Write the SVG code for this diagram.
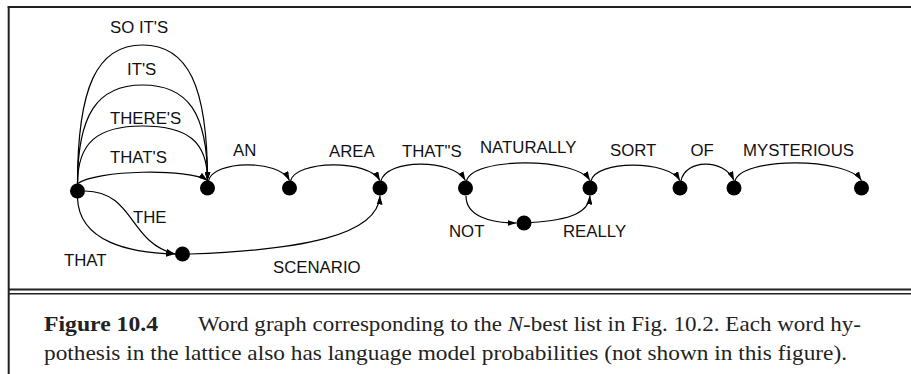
<svg xmlns="http://www.w3.org/2000/svg" width="911" height="374" viewBox="0 0 911 374">
  <style>
    .lbl { font-family: "Liberation Sans", Arial, sans-serif; font-size: 16.8px; fill: #111; }
    .cap { font-family: "Liberation Serif", "Times New Roman", serif; font-size: 22px; fill: #222; }
    .edge { fill: none; stroke: #000; stroke-width: 1.2; marker-end: url(#arr); }
    .edge2 { fill: none; stroke: #000; stroke-width: 1.2; }
    .node { fill: #000; }
    .frame { stroke: #231f20; fill: none; }
  </style>
  <defs>
    <marker id="arr" markerUnits="userSpaceOnUse" markerWidth="9" markerHeight="6" refX="9" refY="3" orient="auto">
      <path d="M0,0 L9,3 L0,6 z" fill="#000"/>
    </marker>
  </defs>
  <rect width="911" height="374" fill="#fff"/>

  <!-- frame -->
  <g id="frame">
    <line class="frame" x1="7.7" y1="7" x2="911" y2="7" stroke-width="2"/>
    <line class="frame" x1="8.7" y1="6" x2="8.7" y2="374" stroke-width="2"/>
    <line class="frame" x1="8" y1="289.5" x2="911" y2="289.5" stroke-width="2"/>
    <line class="frame" x1="8" y1="293.7" x2="911" y2="293.7" stroke-width="1.6"/>
  </g>

  <!-- connectors -->
  <g id="connectors">
    <path class="edge" d="M77.5,184 C77.5,87 97,45 142.5,45 C188,45 207.5,86 207.5,180.5"/>
    <path class="edge" d="M77.5,184 C77.5,115 97,85 142.5,85 C188,85 207.5,113 207.5,180.5"/>
    <path class="edge" d="M77.5,184 C77.5,143 97,126 142.5,126 C188,126 207.5,142 207.5,180.5"/>
    <path class="edge" d="M78,183.5 C95,170 190,168 207.5,180.5"/>
    <path class="edge" d="M208.5,181 C213,160 279,159 289.5,180.5"/>
    <path class="edge" d="M290.5,181 C296,160 368,159 380,180.5"/>
    <path class="edge" d="M381,181 C386,159 452,158 465.5,180.5"/>
    <path class="edge" d="M466.5,181 C472,157 575,157 590,180.5"/>
    <path class="edge" d="M591,181 C596,160 668,160 680,180.5"/>
    <path class="edge" d="M681,181 C685,159 724,158 734,180.5"/>
    <path class="edge" d="M735,181 C741,157 846,157 861.5,180.5"/>
    <path class="edge" d="M466,196 C466,216 490,223 516.5,223"/>
    <path class="edge" d="M531,222.5 C572,220 589,212 590,195.5"/>
    <path class="edge" d="M85,191 C135,192 128,242 175,254"/>
    <path class="edge" d="M77.5,198 C79,242 130,253 175,254"/>
    <path class="edge" d="M190,254 C300,250 378,236 380,195.5"/>
  </g>

  <!-- nodes -->
  <g id="n0"><circle class="node" cx="77.5" cy="191" r="7.5"/></g>
  <g id="n1"><circle class="node" cx="207.5" cy="188" r="7.5"/></g>
  <g id="n2"><circle class="node" cx="289.5" cy="188" r="7.5"/></g>
  <g id="n3"><circle class="node" cx="380" cy="188" r="7.5"/></g>
  <g id="n4"><circle class="node" cx="465.5" cy="188" r="7.5"/></g>
  <g id="n5"><circle class="node" cx="524" cy="223" r="7.5"/></g>
  <g id="n6"><circle class="node" cx="590" cy="188" r="7.5"/></g>
  <g id="n7"><circle class="node" cx="680" cy="188" r="7.5"/></g>
  <g id="n8"><circle class="node" cx="734" cy="188" r="7.5"/></g>
  <g id="n9"><circle class="node" cx="861.5" cy="188" r="7.5"/></g>
  <g id="nS"><circle class="node" cx="182.5" cy="254" r="7.5"/></g>

  <!-- labels -->
  <g id="labels">
    <text class="lbl" x="110" y="33">SO IT'S</text>
    <text class="lbl" x="127" y="75">IT'S</text>
    <text class="lbl" x="110" y="124">THERE'S</text>
    <text class="lbl" x="110" y="163">THAT'S</text>
    <text class="lbl" x="233" y="156">AN</text>
    <text class="lbl" x="329" y="156.5">AREA</text>
    <text class="lbl" x="402" y="156.5">THAT"S</text>
    <text class="lbl" x="480" y="152.5">NATURALLY</text>
    <text class="lbl" x="610" y="156">SORT</text>
    <text class="lbl" x="690.5" y="156">OF</text>
    <text class="lbl" x="743" y="156">MYSTERIOUS</text>
    <text class="lbl" x="449" y="236.5">NOT</text>
    <text class="lbl" x="563" y="237">REALLY</text>
    <text class="lbl" x="133" y="222.5">THE</text>
    <text class="lbl" x="64" y="266">THAT</text>
    <text class="lbl" x="273" y="273">SCENARIO</text>
  </g>

  <!-- caption -->
  <g id="caption">
    <text class="cap" x="44" y="331" font-weight="bold" textLength="114" lengthAdjust="spacingAndGlyphs">Figure 10.4</text>
    <text class="cap" x="198" y="331" textLength="663" lengthAdjust="spacingAndGlyphs">Word graph corresponding to the <tspan font-style="italic">N</tspan>-best list in Fig. 10.2. Each word hy-</text>
    <text class="cap" x="44" y="360" textLength="803" lengthAdjust="spacingAndGlyphs">pothesis in the lattice also has language model probabilities (not shown in this figure).</text>
  </g>
</svg>
